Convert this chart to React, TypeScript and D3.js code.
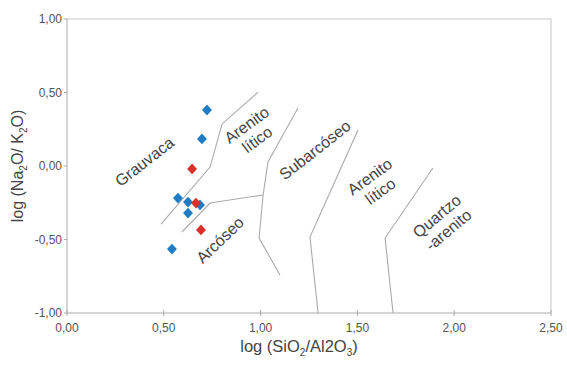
import * as d3 from "d3";

// sample points, log(SiO2/Al2O3) vs log(Na2O/K2O)
const blueX = [0.723, 0.697, 0.573, 0.625, 0.625, 0.687, 0.542];
const blueY = [0.381, 0.184, -0.218, -0.245, -0.32, -0.265, -0.565];
const redX = [0.646, 0.666, 0.692];
const redY = [-0.02, -0.252, -0.435];

// field boundaries
const boundaries: [number, number][][] = [
  [[0.987, 0.503], [0.801, 0.286], [0.739, -0.007], [0.486, -0.395]],
  [[0.594, -0.449], [0.739, -0.252], [1.013, -0.197]],
  [[1.193, 0.395], [1.038, 0.027], [1.013, -0.197], [0.992, -0.49], [1.1, -0.741]],
  [[1.503, 0.245], [1.255, -0.483], [1.297, -1.0]],
  [[1.89, -0.014], [1.643, -0.49], [1.684, -1.0]],
];

// field names: lines, centre (data), rotation
const fieldNames: { lines: string[]; x: number; y: number; rot: number }[] = [
  { lines: ["Grauvaca"], x: 0.4, y: 0.03, rot: -38 },
  { lines: ["Arenito", "lítico"], x: 0.955, y: 0.23, rot: -36 },
  { lines: ["Arcóseo"], x: 0.79, y: -0.503, rot: -44 },
  { lines: ["Subarcóseo"], x: 1.281, y: 0.109, rot: -38 },
  { lines: ["Arenito", "lítico"], x: 1.591, y: -0.122, rot: -36 },
  { lines: ["Quartzo", "-arenito"], x: 1.94, y: -0.388, rot: -40 },
];

const xTicks = [0, 0.5, 1, 1.5, 2, 2.5];
const yTicks = [-1, -0.5, 0, 0.5, 1];

const fmt = (v: number) => d3.format(".2f")(v).replace(".", ",").replace("−", "-");

export default function App() {
  const width = 567;
  const height = 365;
  const x = d3.scaleLinear().domain([0, 2.5]).range([67, 551]);
  const y = d3.scaleLinear().domain([-1, 1]).range([313, 19]);
  const line = d3
    .line<[number, number]>()
    .x((d) => x(d[0]))
    .y((d) => y(d[1]));
  const diamond = d3.symbol().type(d3.symbolSquare).size(58)()!;
  const font = "'Liberation Sans', Arial, sans-serif";

  const pts = (xs: number[], ys: number[], color: string) =>
    xs.map((v, i) => (
      <path
        key={color + i}
        d={diamond}
        fill={color}
        transform={`translate(${x(v)},${y(ys[i])}) scale(0.92,1) rotate(45)`}
      />
    ));

  return (
    <svg
      width={width}
      height={height}
      style={{ position: "absolute", left: 0, top: 0, background: "#fff" }}
      fontFamily={font}
    >
      {/* frame */}
      <line x1={x(0)} x2={x(2.5)} y1={y(1)} y2={y(1)} stroke="#c8c8c8" />
      <line x1={x(2.5)} x2={x(2.5)} y1={y(1)} y2={y(-1)} stroke="#c8c8c8" />
      <line x1={x(0)} x2={x(0)} y1={y(1)} y2={y(-1)} stroke="#aaa" />
      <line x1={x(0)} x2={x(2.5)} y1={y(-1)} y2={y(-1)} stroke="#aaa" />

      {yTicks.map((t) => (
        <g key={"y" + t}>
          <line x1={x(0) - 3} x2={x(0)} y1={y(t)} y2={y(t)} stroke="#aaa" />
          <text x={62} y={y(t)} dy="0.35em" textAnchor="end" fontSize={12} fill="#555">
            {fmt(t)}
          </text>
        </g>
      ))}
      {xTicks.map((t) => (
        <g key={"x" + t}>
          <line x1={x(t)} x2={x(t)} y1={y(-1) - 3} y2={y(-1) + 3} stroke="#aaa" />
          <text x={x(t)} y={332} textAnchor="middle" fontSize={12} fill="#555">
            {fmt(t)}
          </text>
        </g>
      ))}

      {/* axis titles */}
      <text x={299} y={352} textAnchor="middle" fontSize={16.5} fill="#444">
        log (SiO<tspan fontSize={10} dy={4}>2</tspan>
        <tspan dy={-4}>/Al2O</tspan>
        <tspan fontSize={10} dy={4}>3</tspan>
        <tspan dy={-4}>)</tspan>
      </text>
      <text
        transform={`translate(23,${y(0)}) rotate(-90)`}
        textAnchor="middle"
        fontSize={16}
        fill="#444"
      >
        log (Na<tspan fontSize={10} dy={4}>2</tspan>
        <tspan dy={-4}>O/ K</tspan>
        <tspan fontSize={10} dy={4}>2</tspan>
        <tspan dy={-4}>O)</tspan>
      </text>

      {/* boundaries */}
      {boundaries.map((b, i) => (
        <path key={"b" + i} d={line(b)!} fill="none" stroke="#aaa" strokeWidth={1.1} />
      ))}

      {/* field names */}
      {fieldNames.map((f, i) => (
        <text
          key={"f" + i}
          transform={`translate(${x(f.x)},${y(f.y)}) rotate(${f.rot})`}
          textAnchor="middle"
          fontSize={16}
          fill="#444"
        >
          {f.lines.map((l, j) => (
            <tspan key={j} x={0} y={j * 18 - (f.lines.length - 1) * 9} dy="0.35em">
              {l}
            </tspan>
          ))}
        </text>
      ))}

      {pts(blueX, blueY, "#1f7cc4")}
      {pts(redX, redY, "#d8302b")}
    </svg>
  );
}
